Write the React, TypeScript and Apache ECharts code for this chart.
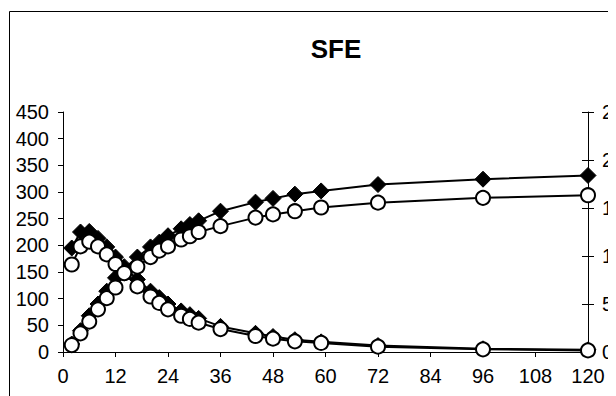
import React, { useEffect, useRef } from "react";
import * as echarts from "echarts";

const hours = [2, 4, 6, 8, 10, 12, 14, 17, 20, 22, 24, 27, 29, 31, 36, 44, 48, 53, 59, 72, 96, 120];
const risingDiamond = [15, 40, 68, 90, 114, 139, 156, 178, 197, 206, 218, 231, 239, 246, 264, 281, 288, 296, 302, 314, 324, 331];
const risingCircle = [13, 35, 57, 80, 101, 121, 148, 160, 178, 190, 198, 211, 217, 225, 236, 252, 258, 264, 271, 280, 289, 294];
const fallingDiamond = [195, 225, 226, 213, 197, 178, 160, 136, 114, 102, 90, 77, 70, 63, 48, 35, 29, 23, 19, 12, 6, 4];
const fallingCircle = [164, 198, 207, 198, 183, 165, 148, 123, 104, 92, 80, 68, 62, 55, 43, 30, 25, 20, 17, 10, 5, 3];

const title = "SFE";
const FONT = "'Liberation Sans', Arial, sans-serif";

function pairs(ys: number[]) {
  return hours.map((h, i) => [h, ys[i]]);
}

export default function App() {
  const ref = useRef<HTMLDivElement>(null);
  useEffect(() => {
    if (!ref.current) return;
    const chart = echarts.init(ref.current, undefined, { renderer: "svg" });
    const lineStyle = { color: "#000", width: 2 };
    const diamondSeries = (name: string, ys: number[]) => ({
      name,
      type: "line",
      data: pairs(ys),
      symbol: "diamond",
      symbolSize: 16,
      lineStyle,
      itemStyle: { color: "#000", borderColor: "#000", borderWidth: 1 },
      z: 2,
    });
    const circleSeries = (name: string, ys: number[]) => ({
      name,
      type: "line",
      data: pairs(ys),
      symbol: "circle",
      symbolSize: 14,
      lineStyle,
      itemStyle: { color: "#fff", borderColor: "#000", borderWidth: 2 },
      z: 3,
    });
    const labelStyle = { color: "#000", fontSize: 20, fontFamily: FONT };
    chart.setOption({
      animation: false,
      backgroundColor: "#fff",
      graphic: [
        {
          type: "rect",
          shape: { x: 1.5, y: 3.5, width: 800, height: 600 },
          style: { fill: "none", stroke: "#000", lineWidth: 1 },
          z: 0,
        },
        {
          type: "text",
          x: 328,
          y: 41,
          style: {
            text: title,
            fill: "#000",
            font: `bold 26px ${FONT}`,
            textAlign: "center",
            textVerticalAlign: "middle",
          },
        },
      ],
      grid: { left: 55, top: 104, right: 100, bottom: 76, containLabel: false },
      xAxis: {
        type: "value",
        min: 0,
        max: 120,
        interval: 12,
        axisLine: { lineStyle: { color: "#000", width: 1 } },
        axisTick: { show: true, length: 5, lineStyle: { color: "#000" } },
        axisLabel: { ...labelStyle, margin: 14 },
        splitLine: { show: false },
      },
      yAxis: [
        {
          type: "value",
          position: "left",
          min: 0,
          max: 450,
          interval: 50,
          axisLine: { show: true, lineStyle: { color: "#000", width: 1 } },
          axisTick: { show: true, length: 5, lineStyle: { color: "#000" } },
          axisLabel: { ...labelStyle, margin: 14 },
          splitLine: { show: false },
        },
        {
          type: "value",
          position: "right",
          min: 0,
          max: 250,
          interval: 50,
          axisLine: { show: true, lineStyle: { color: "#000", width: 1 } },
          axisTick: { show: true, length: 6, lineStyle: { color: "#000" } },
          axisLabel: { ...labelStyle, margin: 14 },
          splitLine: { show: false },
        },
        {
          type: "value",
          position: "right",
          min: 0,
          max: 250,
          interval: 50,
          axisLine: { show: false },
          axisTick: { show: true, inside: true, length: 6, lineStyle: { color: "#000" } },
          axisLabel: { show: false },
          splitLine: { show: false },
        },
      ],
      series: [
        diamondSeries("A", risingDiamond),
        diamondSeries("B", fallingDiamond),
        circleSeries("C", risingCircle),
        circleSeries("D", fallingCircle),
      ],
    });
    return () => chart.dispose();
  }, []);
  return (
    <div style={{ width: 608, height: 388, overflow: "hidden" }}>
      <div ref={ref} style={{ width: 680, height: 420 }} />
    </div>
  );
}
